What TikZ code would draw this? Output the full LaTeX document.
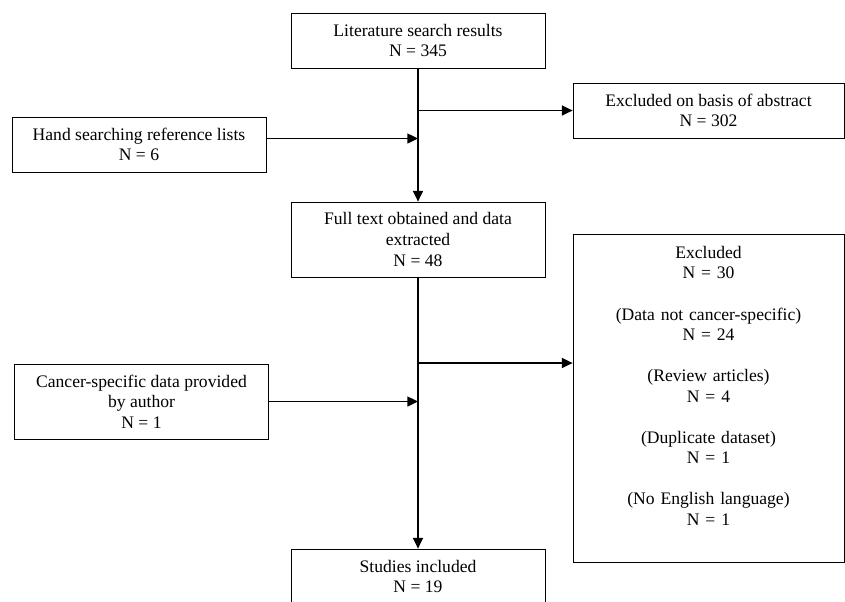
\documentclass[tikz,border=0pt]{standalone}
\usepackage{fontspec}
\setmainfont{Liberation Serif}
\usetikzlibrary{arrows.meta}
\begin{document}
\begin{tikzpicture}[x=0.75pt, y=-0.75pt, >={Triangle[length=8pt, width=7.5pt]},
    block/.style={draw, line width=0.6pt, minimum width=190.5pt, minimum height=41.25pt, align=center, inner sep=2pt, font=\fontsize{13.2}{15.4}\selectfont},
    link/.style={->, line width=1pt}]
    \useasboundingbox (0,0) rectangle (845,601);

    % main column
    \node[block] (search) at (418,40.5) {Literature search results\\N = 345};
    \node[block, minimum height=56.25pt] (fulltext) at (418,239.5) {Full text obtained and data\\extracted\\N = 48};
    \node[block] (included) at (418,576.5) {Studies included\\N = 19};

    % side boxes
    \node[block, minimum width=203.25pt] (abstract) at (708.5,110.5) {Excluded on basis of abstract\\N = 302};
    \node[block] (hand) at (139,144.5) {Hand searching reference lists\\N = 6};
    \node[block, minimum height=56.25pt] (author) at (141.5,401.5) {Cancer-specific data provided\\by author\\N = 1};
    \node[block, anchor=north, text width=203.25pt, inner sep=0pt, text height=18pt, text depth=227.75pt] (excluded) at (708.5,234)
        {Excluded\\N = 30\\[15.4pt](Data not cancer-specific)\\N = 24\\[15.4pt](Review articles)\\N = 4\\[15.4pt](Duplicate dataset)\\N = 1\\[15.4pt](No English language)\\N = 1};

    % arrows
    \draw[link] (search) -- (fulltext);
    \draw[link] (search.south |- abstract.west) -- (abstract.west);
    \coordinate (handout) at ([yshift=4.5pt]hand.east);
    \draw[link] (handout) -- (handout -| search.south);
    \draw[link] (fulltext) -- (included);
    \coordinate (exclin) at (excluded.west |- 0,363);
    \draw[link] (exclin -| fulltext.south) -- (exclin);
    \draw[link] (author.east) -- (author.east -| fulltext.south);
\end{tikzpicture}
\end{document}
